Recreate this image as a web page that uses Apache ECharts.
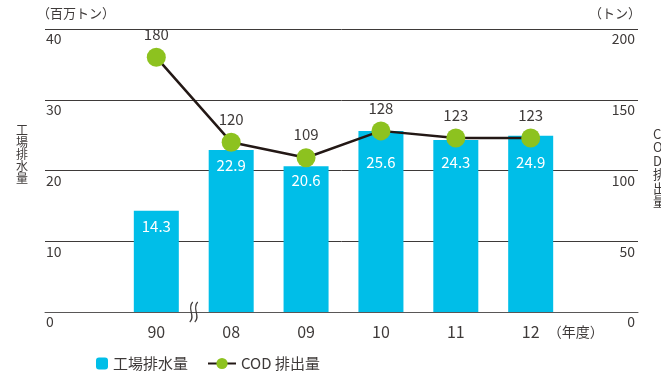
<!DOCTYPE html>
<html>
<head>
<meta charset="utf-8">
<script src="https://cdn.jsdelivr.net/npm/echarts@6/dist/echarts.min.js"></script>
<style>
  html, body { margin: 0; padding: 0; background: #fff; }
  #chart { width: 661px; height: 375px; }
</style>
</head>
<body>
<div id="chart"></div>
<script>
// Fiscal years (1990, then 2008-2012)
const years = ['90', '08', '09', '10', '11', '12'];
// Factory wastewater discharge (million tons)
const wastewater = [14.3, 22.9, 20.6, 25.6, 24.3, 24.9];
// COD discharge (tons)
const codDischarge = [180, 120, 109, 128, 123, 123];
// Axis tick values
const leftTicks = { min: 0, max: 40, interval: 10 };
const rightTicks = { min: 0, max: 200, interval: 50 };

// Styling: how far each bar's value label sits below the bar top,
// pushed lower where the COD marker covers the top of the bar
const barLabelDistance = [7.5, 8, 7, 24, 15, 19];

const FONT = '"Noto Sans CJK JP", "Noto Sans", sans-serif';
const TEXT = '#3e3a39';
const BAR = '#00bee8';
const LINE = '#231815';
const DOT = '#8dc21f';

// blank slot at each end of the category axis
const categories = ['', ...years, ''];
const pad = arr => [null, ...arr, null];

const barData = pad(wastewater.map((v, i) => ({
  value: v,
  label: { distance: barLabelDistance[i] }
})));

const chart = echarts.init(document.getElementById('chart'), null, { renderer: 'canvas' });

chart.setOption({
  animation: false,
  textStyle: { fontFamily: FONT },
  grid: [
    // gridlines, tick labels and baseline
    { left: 45, right: 23, top: 29, bottom: 63 },
    // columns and line
    { left: 44, right: 18, top: 29, bottom: 63 }
  ],
  legend: [
    {
      data: ['工場排水量'],
      left: 96, top: 356, padding: 0,
      itemWidth: 12, itemHeight: 12, itemGap: 5,
      textStyle: { fontFamily: FONT, fontSize: 15, color: TEXT }
    },
    {
      data: ['COD 排出量'],
      left: 207, top: 356, padding: 0,
      itemWidth: 28, itemHeight: 14, itemGap: 5,
      textStyle: { fontFamily: FONT, fontSize: 15, color: TEXT }
    }
  ],
  xAxis: [
    {
      gridIndex: 0,
      type: 'value', min: 0, max: 1,
      axisTick: { show: false },
      axisLabel: { show: false },
      splitLine: { show: false },
      axisLine: { show: true, lineStyle: { color: '#595757', width: 1 } }
    },
    {
      gridIndex: 1,
      type: 'category',
      data: categories,
      axisTick: { show: false },
      axisLine: { show: false },
      axisLabel: {
        margin: 12,
        interval: 0,
        fontFamily: FONT,
        fontSize: 16,
        color: TEXT
      }
    }
  ],
  yAxis: [
    {
      gridIndex: 0,
      type: 'value',
      min: leftTicks.min, max: leftTicks.max, interval: leftTicks.interval,
      axisLine: { show: false },
      axisTick: { show: false },
      splitLine: { lineStyle: { color: '#3e3a39', width: 1 } },
      axisLabel: {
        inside: true, margin: 1,
        align: 'left', verticalAlign: 'top', padding: [3, 0, 0, 0],
        fontFamily: FONT, fontSize: 14, color: TEXT
      }
    },
    {
      gridIndex: 0,
      type: 'value',
      min: rightTicks.min, max: rightTicks.max, interval: rightTicks.interval,
      axisLine: { show: false },
      axisTick: { show: false },
      splitLine: { show: false },
      axisLabel: {
        inside: true, margin: 3,
        align: 'right', verticalAlign: 'top', padding: [3, 0, 0, 0],
        fontFamily: FONT, fontSize: 14, color: TEXT
      }
    },
    {
      gridIndex: 1, show: false, type: 'value',
      min: leftTicks.min, max: leftTicks.max, interval: leftTicks.interval
    },
    {
      gridIndex: 1, show: false, type: 'value', position: 'right',
      min: rightTicks.min, max: rightTicks.max, interval: rightTicks.interval
    }
  ],
  series: [
    {
      name: '工場排水量',
      type: 'bar',
      xAxisIndex: 1,
      yAxisIndex: 2,
      data: barData,
      barWidth: 45,
      itemStyle: { color: BAR },
      label: {
        show: true, position: 'insideTop', distance: 7,
        fontFamily: FONT, fontSize: 15, color: '#ffffff',
        formatter: p => Number(p.value).toFixed(1)
      },
      z: 2
    },
    {
      name: 'COD 排出量',
      type: 'line',
      xAxisIndex: 1,
      yAxisIndex: 3,
      data: pad(codDischarge),
      symbol: 'circle',
      symbolSize: 19,
      lineStyle: { color: LINE, width: 2.5 },
      itemStyle: { color: DOT, borderWidth: 0 },
      label: {
        show: true, position: 'top', distance: 6,
        fontFamily: FONT, fontSize: 15, color: TEXT
      },
      z: 3
    }
  ]
});

// Axis-break mark between the 1990 and 2008 columns, the year unit, and axis captions
const px = i => chart.convertToPixel({ xAxisIndex: 1 }, i);
const y0 = chart.convertToPixel({ yAxisIndex: 2 }, 0);
const bx = (px(1) + px(2)) / 2;
const lastX = px(years.length);

const wave = dx => ({
  type: 'bezierCurve',
  shape: {
    x1: bx + dx + 1.5, y1: y0 - 10,
    cpx1: bx + dx - 5, cpy1: y0 - 3,
    cpx2: bx + dx + 5, cpy2: y0 + 4,
    x2: bx + dx - 1.5, y2: y0 + 10
  },
  style: { stroke: TEXT, lineWidth: 1.2, fill: null },
  z: 10
});

chart.setOption({
  graphic: [
    wave(-2.5),
    wave(2.5),
    {
      type: 'text', x: lastX + 17, y: y0 + 20,
      style: { text: '（年度）', font: '14px ' + FONT, fill: TEXT, verticalAlign: 'middle' }
    },
    {
      type: 'text', left: 37, top: 7,
      style: { text: '（百万トン）', font: '13px ' + FONT, fill: TEXT }
    },
    {
      type: 'text', right: 20, top: 7,
      style: { text: '（トン）', font: '13px ' + FONT, fill: TEXT }
    },
    {
      type: 'text', left: 16, top: 124,
      style: { text: '工\n場\n排\n水\n量', font: '12px ' + FONT, lineHeight: 12, fill: TEXT }
    },
    {
      type: 'text', left: 653, top: 127,
      style: { text: 'C\nO\nD\n排\n出\n量', font: '13px ' + FONT, lineHeight: 13.5, fill: TEXT }
    }
  ]
});
</script>
</body>
</html>
